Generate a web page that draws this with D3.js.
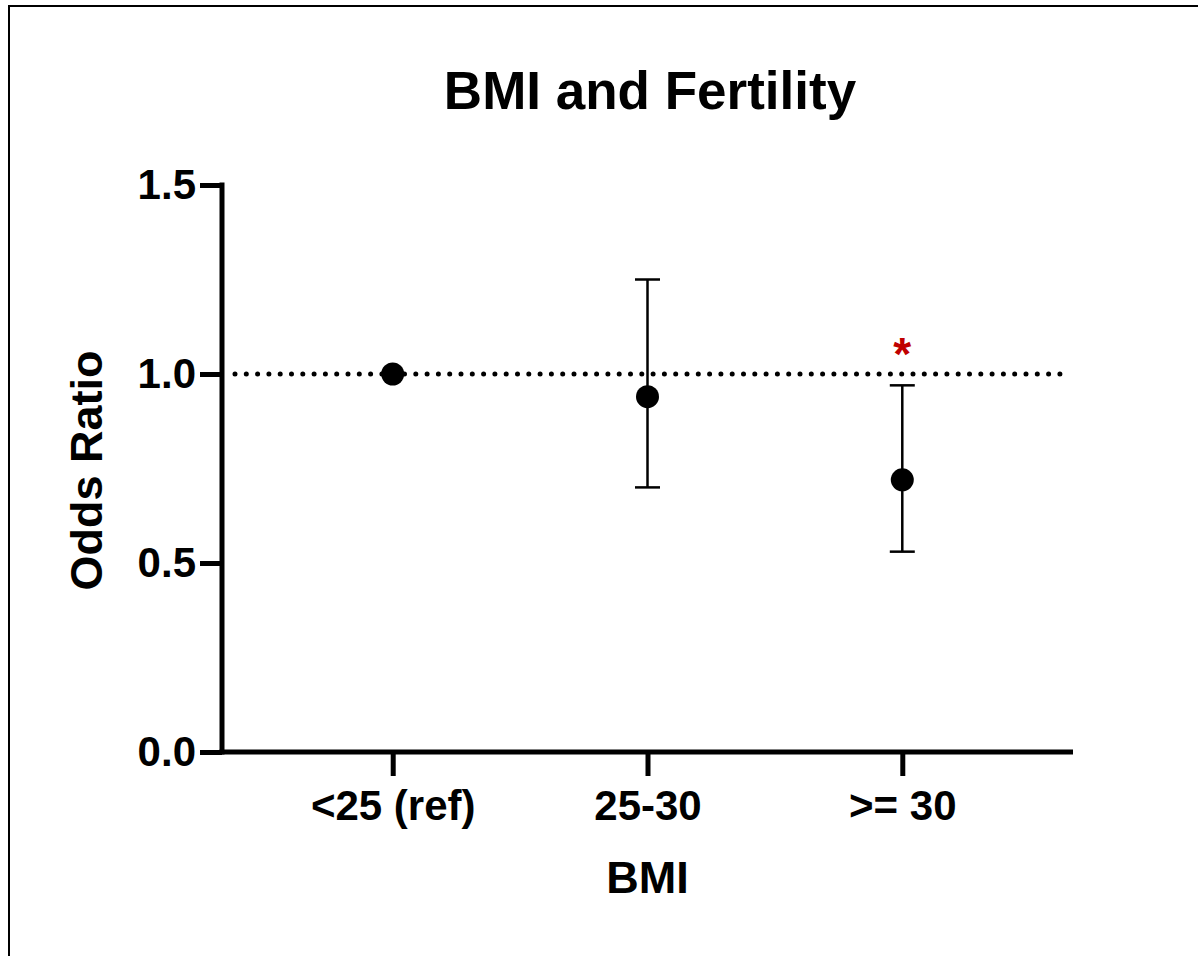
<!DOCTYPE html>
<html lang="en">
<head>
    <meta charset="UTF-8">
    <title>BMI and Fertility</title>
    <script src="https://cdn.jsdelivr.net/npm/d3@7/dist/d3.min.js"></script>
    <style>
        body { margin: 0; background: #fff; }
        svg text { font-family: "Liberation Sans", Arial, sans-serif; font-weight: bold; }
    </style>
</head>
<body>
<script type="application/javascript">
    // data
    const categories = ['<25 (ref)', '25-30', '>= 30'];
    const oddsRatio = [1.0, 0.94, 0.72];
    const ciLower = [1.0, 0.70, 0.53];
    const ciUpper = [1.0, 1.25, 0.97];
    const significant = [false, false, true];
    const yTicks = [0, 0.5, 1.0, 1.5];
    const refLine = 1.0;

    const w = 1198, h = 956;
    const plotLeft = 222, plotRight = 1073, plotTop = 185, plotBottom = 752;

    const svg = d3.select('body')
        .append('svg')
        .attr('width', w)
        .attr('height', h);

    // frame, open on the right and bottom
    svg.append('rect')
        .attr('x', 9)
        .attr('y', 6)
        .attr('width', 1400)
        .attr('height', 1200)
        .attr('fill', 'none')
        .attr('stroke', '#000')
        .attr('stroke-width', 2);

    const xScale = d3.scalePoint()
        .domain(categories)
        .range([plotLeft, plotRight])
        .padding(0.67);

    const yScale = d3.scaleLinear()
        .domain([0, 1.5])
        .range([plotBottom, plotTop]);

    const data = categories.map((c, i) => ({
        cat: c,
        or: oddsRatio[i],
        lo: ciLower[i],
        hi: ciUpper[i],
        sig: significant[i]
    }));

    // axes
    const yAxis = svg.append('g')
        .attr('transform', `translate(${plotLeft},0)`)
        .call(d3.axisLeft(yScale)
            .tickValues(yTicks)
            .tickFormat(d3.format('.1f'))
            .tickSize(22)
            .tickSizeOuter(0)
            .tickPadding(4));

    const xAxis = svg.append('g')
        .attr('transform', `translate(0,${plotBottom})`)
        .call(d3.axisBottom(xScale)
            .tickSize(24)
            .tickSizeOuter(0)
            .tickPadding(14));

    [yAxis, xAxis].forEach(ax => {
        ax.select('.domain').attr('stroke', '#000').attr('stroke-width', 5);
        ax.selectAll('.tick line').attr('stroke', '#000').attr('stroke-width', 5);
        ax.selectAll('.tick text')
            .attr('fill', '#000')
            .attr('font-size', '42px')
            .attr('font-family', '"Liberation Sans", Arial, sans-serif')
            .attr('font-weight', 'bold');
    });
    yAxis.select('.domain').attr('d', `M0,${plotBottom + 2.5}V${plotTop - 2.5}`);
    xAxis.select('.domain').attr('d', `M${plotLeft - 2.5},0H${plotRight}`);

    // dotted reference line at OR = 1
    svg.append('line')
        .attr('x1', plotLeft + 13)
        .attr('x2', 1066)
        .attr('y1', yScale(refLine))
        .attr('y2', yScale(refLine))
        .attr('stroke', '#000')
        .attr('stroke-width', 5)
        .attr('stroke-linecap', 'round')
        .attr('stroke-dasharray', '0 11.3');

    // error bars
    const bars = svg.selectAll('g.err')
        .data(data.filter(d => d.hi > d.lo))
        .enter()
        .append('g')
        .attr('class', 'err');

    bars.append('line')
        .attr('x1', d => xScale(d.cat))
        .attr('x2', d => xScale(d.cat))
        .attr('y1', d => yScale(d.lo))
        .attr('y2', d => yScale(d.hi))
        .attr('stroke', '#000')
        .attr('stroke-width', 2.5);

    ['lo', 'hi'].forEach(k => {
        bars.append('line')
            .attr('x1', d => xScale(d.cat) - 12.5)
            .attr('x2', d => xScale(d.cat) + 12.5)
            .attr('y1', d => yScale(d[k]))
            .attr('y2', d => yScale(d[k]))
            .attr('stroke', '#000')
            .attr('stroke-width', 2.5);
    });

    // points
    svg.selectAll('circle.pt')
        .data(data)
        .enter()
        .append('circle')
        .attr('class', 'pt')
        .attr('cx', d => xScale(d.cat))
        .attr('cy', d => yScale(d.or))
        .attr('r', 11.5)
        .attr('fill', '#000');

    // significance marker
    svg.selectAll('text.sig')
        .data(data.filter(d => d.sig))
        .enter()
        .append('text')
        .attr('class', 'sig')
        .attr('x', d => xScale(d.cat))
        .attr('y', d => yScale(d.hi) - 15)
        .attr('text-anchor', 'middle')
        .attr('font-size', '46px')
        .attr('fill', '#c00000')
        .text('*');

    // title and axis labels
    svg.append('text')
        .attr('x', 650)
        .attr('y', 109)
        .attr('text-anchor', 'middle')
        .attr('font-size', '53px')
        .text('BMI and Fertility');

    svg.append('text')
        .attr('x', (plotLeft + plotRight) / 2)
        .attr('y', 893)
        .attr('text-anchor', 'middle')
        .attr('font-size', '45px')
        .text('BMI');

    svg.append('text')
        .attr('transform', `translate(102,${(plotTop + plotBottom) / 2 + 2}) rotate(-90)`)
        .attr('text-anchor', 'middle')
        .attr('font-size', '45px')
        .text('Odds Ratio');
</script>
</body>
</html>
